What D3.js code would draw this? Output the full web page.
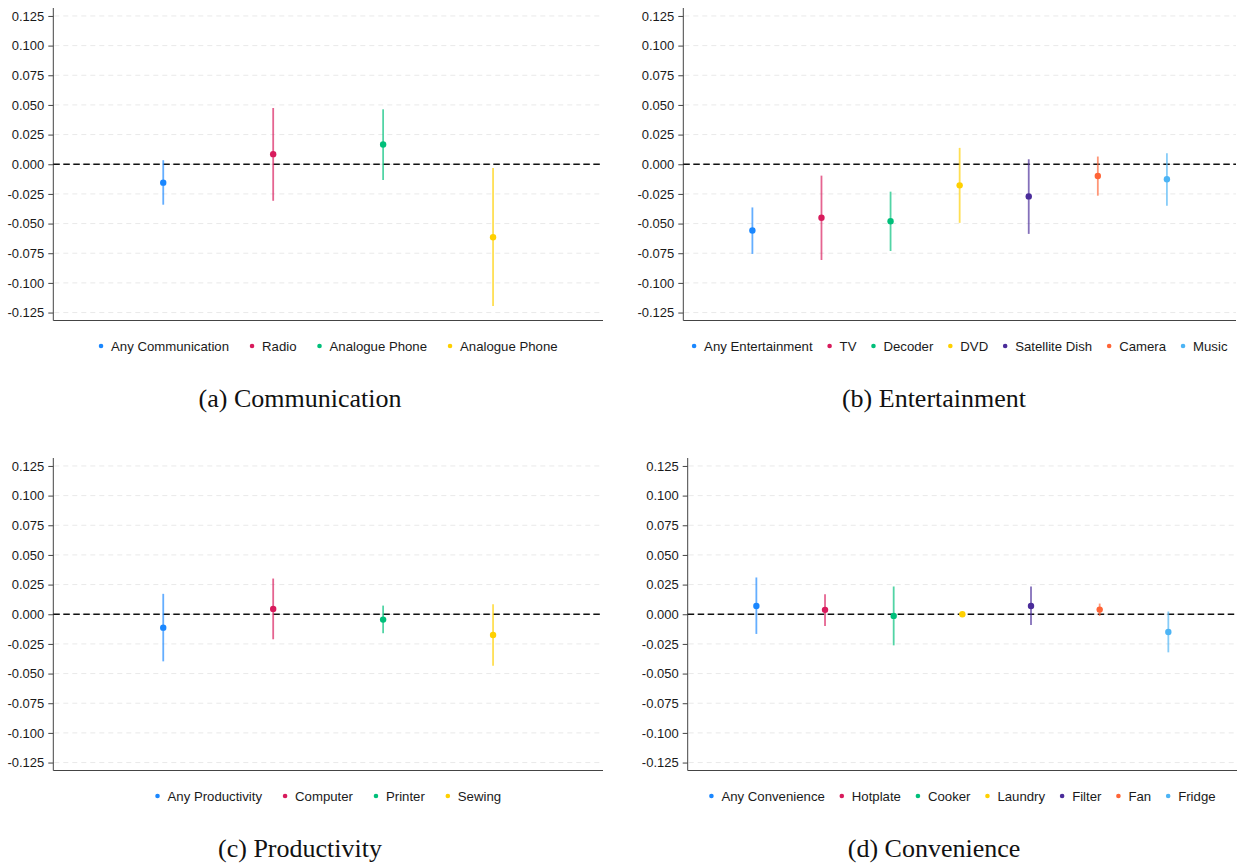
<!DOCTYPE html>
<html>
<head>
<meta charset="utf-8">
<script src="https://cdn.jsdelivr.net/npm/d3@7"></script>
<style>
  html, body { margin: 0; padding: 0; background: #ffffff; }
  svg { display: block; }
</style>
</head>
<body>
<svg id="fig" width="1240" height="864"></svg>
<script>
// Point estimates with confidence intervals, by asset group

const commLabels = ["Any Communication", "Radio", "Analogue Phone", "Analogue Phone"];
const commEst    = [-0.0155,  0.0085,  0.0166, -0.0615];
const commLo     = [-0.0341, -0.0308, -0.0133, -0.1194];
const commHi     = [ 0.0034,  0.0474,  0.0463, -0.0031];

const entLabels = ["Any Entertainment", "TV", "Decoder", "DVD", "Satellite Dish", "Camera", "Music"];
const entEst    = [-0.0559, -0.0451, -0.0480, -0.0178, -0.0271, -0.0099, -0.0127];
const entLo     = [-0.0756, -0.0807, -0.0731, -0.0494, -0.0587, -0.0265, -0.0350];
const entHi     = [-0.0364, -0.0096, -0.0231,  0.0138,  0.0042,  0.0065,  0.0093];

const prodLabels = ["Any Productivity", "Computer", "Printer", "Sewing"];
const prodEst    = [-0.0113,  0.0045, -0.0045, -0.0175];
const prodLo     = [-0.0397, -0.0211, -0.0160, -0.0434];
const prodHi     = [ 0.0172,  0.0301,  0.0073,  0.0084];

const convLabels = ["Any Convenience", "Hotplate", "Cooker", "Laundry", "Filter", "Fan", "Fridge"];
const convEst    = [ 0.0070,  0.0037, -0.0014,  0.0000,  0.0070,  0.0039, -0.0149];
const convLo     = [-0.0166, -0.0099, -0.0262, -0.0006, -0.0090, -0.0014, -0.0321];
const convHi     = [ 0.0310,  0.0169,  0.0234,  0.0006,  0.0234,  0.0090,  0.0023];

const captions = ["(a) Communication", "(b) Entertainment", "(c) Productivity", "(d) Convenience"];

const yTicks = [0.125, 0.100, 0.075, 0.050, 0.025, 0.000, -0.025, -0.050, -0.075, -0.100, -0.125];

const palette = ["#1a87ff", "#d81b5c", "#00bf7a", "#ffd000", "#4a2c9a", "#ff6436", "#4cb4f5"];

// ---------------------------------------------------------------------------

const panelData = [
  { labels: commLabels, est: commEst, lo: commLo, hi: commHi },
  { labels: entLabels,  est: entEst,  lo: entLo,  hi: entHi  },
  { labels: prodLabels, est: prodEst, lo: prodLo, hi: prodHi },
  { labels: convLabels, est: convEst, lo: convLo, hi: convHi }
];

// Panel frames: plot box, legend row, caption
const layout = [
  { left: 53.3,  right: 603,  top: 8,   bottom: 320.5, legendY: 346, legendGap: 23, capX: 300, capY: 407 },
  { left: 683.3, right: 1236, top: 8,   bottom: 320.5, legendY: 346, legendGap: 17, capX: 934, capY: 407 },
  { left: 53.3,  right: 603,  top: 458, bottom: 770.5, legendY: 796, legendGap: 23, capX: 300, capY: 857 },
  { left: 687.7, right: 1237, top: 458, bottom: 770.5, legendY: 796, legendGap: 17, capX: 934, capY: 857 }
];

const fmt = d3.formatLocale({ decimal: ".", thousands: ",", grouping: [3], currency: ["", ""], minus: "-" })
  .format(".3f");

const svg = d3.select("#fig");
const sansFont = "'Liberation Sans', Arial, sans-serif";
const serifFont = "'Liberation Serif', 'Times New Roman', serif";

panelData.forEach((pd, pi) => {
  const L = layout[pi];
  const n = pd.labels.length;
  const g = svg.append("g");

  const x = d3.scaleLinear().domain([0, n + 1]).range([L.left, L.right]);
  const y = d3.scaleLinear().domain([-0.1317, 0.1317]).range([L.bottom, L.top]);

  // Horizontal dashed grid
  g.append("g").selectAll("line").data(yTicks).join("line")
    .attr("x1", L.left + 1).attr("x2", L.right)
    .attr("y1", d => y(d)).attr("y2", d => y(d))
    .attr("stroke", "#e9e9e9").attr("stroke-width", 1)
    .attr("stroke-dasharray", "5,4");

  // Y axis
  const yAxis = d3.axisLeft(y).tickValues(yTicks).tickFormat(fmt).tickSize(5).tickPadding(4).tickSizeOuter(0);
  const ya = g.append("g").attr("transform", `translate(${L.left},0)`).call(yAxis);
  ya.select(".domain").attr("stroke", "#444").attr("stroke-width", 1)
    .attr("d", `M0,${L.top}V${L.bottom}`);
  ya.selectAll(".tick line").attr("stroke", "#444");
  ya.selectAll(".tick text")
    .attr("fill", "#1a1a1a").style("font-family", sansFont).style("font-size", "13px");

  // Bottom frame line
  g.append("line")
    .attr("x1", L.left).attr("x2", L.right)
    .attr("y1", L.bottom).attr("y2", L.bottom)
    .attr("stroke", "#444").attr("stroke-width", 1.2);

  // Zero reference
  g.append("line")
    .attr("x1", L.left).attr("x2", L.right)
    .attr("y1", y(0)).attr("y2", y(0))
    .attr("stroke", "#111").attr("stroke-width", 1.4)
    .attr("stroke-dasharray", "6.5,3.5");

  const idx = d3.range(n);

  // Confidence intervals
  g.append("g").selectAll("line").data(idx).join("line")
    .attr("x1", i => x(i + 1)).attr("x2", i => x(i + 1))
    .attr("y1", i => y(pd.lo[i])).attr("y2", i => y(pd.hi[i]))
    .attr("stroke", i => palette[i]).attr("stroke-width", 1.8)
    .attr("stroke-opacity", 0.68);

  // Point estimates
  g.append("g").selectAll("circle").data(idx).join("circle")
    .attr("cx", i => x(i + 1)).attr("cy", i => y(pd.est[i]))
    .attr("r", 3.2).attr("fill", i => palette[i]);

  // Legend row, centred under the plot
  const leg = g.append("g");
  const items = leg.selectAll("g").data(idx).join("g");
  items.append("circle").attr("r", 2.3).attr("cx", 0).attr("cy", 0).attr("fill", i => palette[i]);
  items.append("text")
    .attr("x", 10).attr("y", 0).attr("dy", "0.36em")
    .attr("fill", "#1a1a1a")
    .style("font-family", sansFont).style("font-size", "13.2px")
    .text(i => pd.labels[i]);
  let cursor = 0;
  const offsets = [];
  items.each(function (i) {
    const w = d3.select(this).select("text").node().getComputedTextLength();
    offsets.push(cursor);
    cursor += 10 + w + L.legendGap;
  });
  const totalW = cursor - L.legendGap + 2.3;
  const startX = (L.left + L.right) / 2 - totalW / 2 + 2.3;
  items.attr("transform", (i) => `translate(${startX + offsets[i]},${L.legendY})`);

  // Caption
  svg.append("text")
    .attr("x", L.capX).attr("y", L.capY)
    .attr("text-anchor", "middle")
    .attr("fill", "#111")
    .style("font-family", serifFont).style("font-size", "26px")
    .text(captions[pi]);
});
</script>
</body>
</html>
